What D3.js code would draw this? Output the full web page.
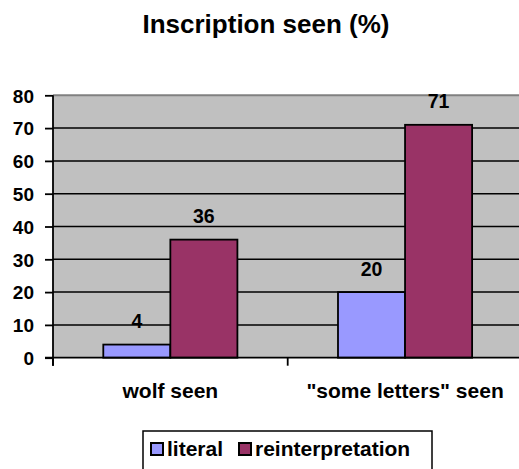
<!DOCTYPE html>
<html><head><meta charset="utf-8">
<script src="https://cdn.jsdelivr.net/npm/d3@7"></script>
<style>html,body{margin:0;padding:0;background:#fff;overflow:hidden}svg{display:block;font-family:"Liberation Sans",Arial,sans-serif;font-weight:bold}</style>
</head><body>
<script>
const categories = ["wolf seen", "\"some letters\" seen"];
const series = ["literal", "reinterpretation"];
const literal = [4, 20];
const reinterpretation = [36, 71];
const yTicks = [0, 10, 20, 30, 40, 50, 60, 70, 80];
const title = "Inscription seen (%)";
const colors = ["#9999FF", "#993366"];

const W = 519, H = 469;
const svg = d3.select("body").append("svg").attr("width", W).attr("height", H);

const pLeft = 53, pRight = 522.4, pTop = 95.3, pBottom = 357.7;
const y = d3.scaleLinear().domain([0, 80]).range([pBottom, pTop]);
const x0 = d3.scaleBand().domain(categories).range([pLeft, pRight]).padding(0);
const x1 = d3.scaleBand().domain(series).range([0, x0.bandwidth()]).paddingInner(0).paddingOuter(0.75);

// title
svg.append("text").attr("x", 266).attr("y", 33).attr("text-anchor", "middle")
  .attr("font-size", 26).text(title);

// plot background
svg.append("rect").attr("x", pLeft).attr("y", pTop).attr("width", pRight - pLeft).attr("height", pBottom - pTop)
  .attr("fill", "#C0C0C0");
svg.append("line").attr("x1", pLeft).attr("x2", pRight).attr("y1", pTop).attr("y2", pTop)
  .attr("stroke", "#808080").attr("stroke-width", 2);

// gridlines
svg.append("g").selectAll("line").data(yTicks.filter(t => t > 0 && t < 80)).join("line")
  .attr("x1", pLeft).attr("x2", pRight).attr("y1", d => y(d)).attr("y2", d => y(d))
  .attr("stroke", "#000").attr("stroke-width", 1.5);

// bars
const data = categories.map((c, i) => ({cat: c, vals: [literal[i], reinterpretation[i]]}));
const groups = svg.append("g").selectAll("g").data(data).join("g")
  .attr("transform", d => `translate(${x0(d.cat)},0)`);
groups.selectAll("rect").data(d => d.vals.map((v, j) => ({s: series[j], v, j}))).join("rect")
  .attr("x", d => x1(d.s)).attr("width", x1.bandwidth())
  .attr("y", d => y(d.v)).attr("height", d => y(0) - y(d.v))
  .attr("fill", d => colors[d.j]).attr("stroke", "#000").attr("stroke-width", 1.8);
groups.selectAll("text").data(d => d.vals.map((v, j) => ({s: series[j], v, j}))).join("text")
  .attr("x", d => x1(d.s) + x1.bandwidth() / 2).attr("y", d => y(d.v) - 16.5)
  .attr("text-anchor", "middle").attr("font-size", 19.5).text(d => d.v);

// y axis
const yAxis = d3.axisLeft(y).tickValues(yTicks).tickSize(8).tickPadding(11);
const gy = svg.append("g").attr("transform", `translate(${pLeft},0)`).call(yAxis);
gy.select(".domain").remove();
gy.selectAll(".tick line").attr("stroke", "#000").attr("stroke-width", 1.8);
gy.selectAll(".tick text").attr("font-size", 19).attr("fill", "#000").attr("dy", "0.36em");
gy.attr("font-family", null).attr("font-size", null);
svg.append("line").attr("x1", pLeft).attr("x2", pLeft).attr("y1", pTop).attr("y2", pBottom + 8)
  .attr("stroke", "#000").attr("stroke-width", 1.8);

// x axis
svg.append("line").attr("x1", pLeft - 8).attr("x2", pRight).attr("y1", pBottom).attr("y2", pBottom)
  .attr("stroke", "#000").attr("stroke-width", 1.8);
svg.append("g").selectAll("line").data(categories).join("line")
  .attr("x1", d => x0(d)).attr("x2", d => x0(d)).attr("y1", pBottom).attr("y2", pBottom + 8)
  .attr("stroke", "#000").attr("stroke-width", 1.8);
svg.append("g").selectAll("text").data(categories).join("text")
  .attr("x", d => x0(d) + x0.bandwidth() / 2).attr("y", 397.5)
  .attr("text-anchor", "middle").attr("font-size", 21).text(d => d);

// legend
const lg = svg.append("g");
lg.append("rect").attr("x", 143).attr("y", 431).attr("width", 289).attr("height", 50)
  .attr("fill", "#fff").attr("stroke", "#000").attr("stroke-width", 1.5);
const legX = [151, 239];
const items = lg.selectAll("g").data(series).join("g")
  .attr("transform", (d, i) => `translate(${legX[i]},0)`);
items.append("rect").attr("x", 0).attr("y", 443).attr("width", 12).attr("height", 12)
  .attr("fill", (d, i) => colors[i]).attr("stroke", "#000").attr("stroke-width", 2);
items.append("text").attr("x", 16).attr("y", 456).attr("font-size", 21).text(d => d);
</script>
</body></html>
